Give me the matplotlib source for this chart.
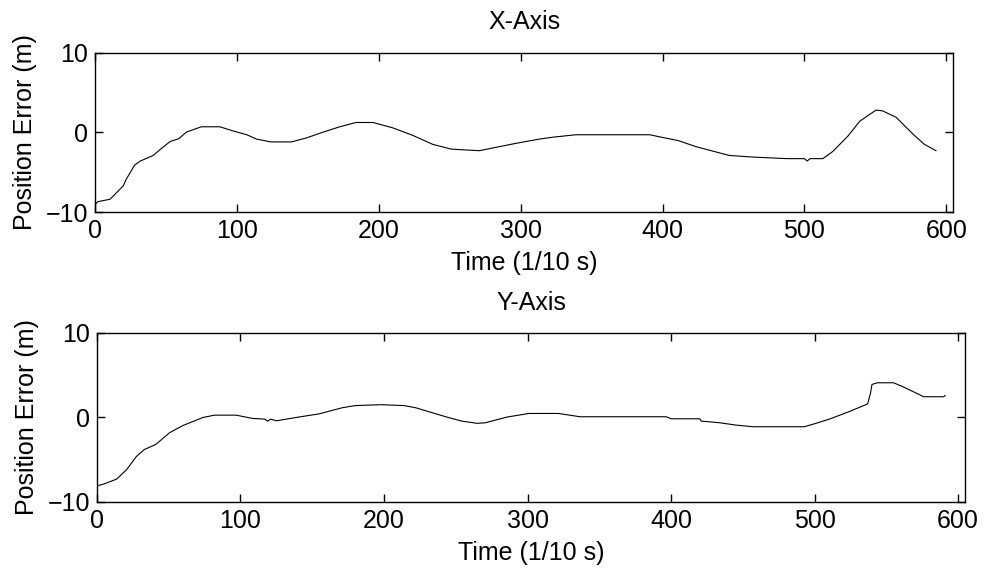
import numpy as np
import matplotlib
matplotlib.use("Agg")
import matplotlib.pyplot as plt

plt.rcParams['font.family'] = ['Liberation Sans', 'DejaVu Sans']

# ============================================================================
# values (time in 1/10 s, error in m)
x_time = [0, 2, 10.6, 20, 22, 28, 32, 41, 47, 53, 59, 64.5, 75, 88, 97, 107,
          114, 124, 138.5, 149, 161, 172.5, 184, 196, 203, 210, 224, 238, 251,
          260.5, 271, 282, 297, 313, 323, 339, 391, 402.6, 411, 423.7, 447,
          463.6, 488, 500, 502, 504, 513, 520, 530.5, 539, 550.5, 555, 564.6,
          577, 584.5, 592.7]
x_err = [-9.1, -8.7, -8.4, -6.7, -5.9, -4.1, -3.6, -2.9, -2.0, -1.15, -0.8,
         0.04, 0.7, 0.7, 0.2, -0.3, -0.85, -1.2, -1.2, -0.7, 0.04, 0.7, 1.24,
         1.24, 0.9, 0.56, -0.38, -1.5, -2.1, -2.2, -2.3, -1.9, -1.37, -0.85,
         -0.6, -0.3, -0.3, -0.73, -1.03, -1.8, -2.9, -3.1, -3.3, -3.3, -3.6,
         -3.3, -3.3, -2.4, -0.5, 1.4, 2.8, 2.7, 1.9, -0.3, -1.5, -2.3]

y_time = [0, 4.4, 13.7, 20.6, 27.6, 33, 41, 50.7, 60, 74, 82, 97, 108.5, 117,
          119, 121, 125, 139, 155, 171, 180, 196.5, 199, 214, 222, 243, 254,
          265, 270.6, 285.6, 301, 321.5, 336.6, 396.7, 400, 420, 421, 433.8,
          445, 457, 492.8, 501, 511, 525, 537, 539, 540, 543.8, 555, 562, 576,
          590, 591]
y_err = [-8.1, -7.9, -7.3, -6.2, -4.6, -3.8, -3.2, -1.8, -0.95, 0.0, 0.27,
         0.27, -0.12, -0.2, -0.45, -0.2, -0.4, 0.0, 0.43, 1.15, 1.4, 1.5, 1.5,
         1.4, 1.15, 0.08, -0.43, -0.7, -0.63, 0.04, 0.47, 0.47, 0.08, 0.08,
         -0.16, -0.16, -0.43, -0.63, -0.9, -1.1, -1.1, -0.7, -0.16, 0.75, 1.6,
         2.9, 3.9, 4.1, 4.1, 3.6, 2.45, 2.45, 2.6]

x_ticks = [0, 100, 200, 300, 400, 500, 600]
y_ticks = [-10, 0, 10]

FS = 18

# ============================================================================
fig = plt.figure(figsize=(9.89, 5.73), dpi=100)
ax1 = fig.add_axes([0.096, 0.630, 0.868, 0.278])
ax2 = fig.add_axes([0.098, 0.124, 0.878, 0.295])

for ax, t, e, title, pad in [(ax1, x_time, x_err, 'X-Axis', 17),
                             (ax2, y_time, y_err, 'Y-Axis', 16.5)]:
    ax.plot(t, e, color='black', linewidth=0.8)
    ax.set_xlim(0, 605)
    ax.set_ylim(-10, 10)
    ax.set_xticks(x_ticks)
    ax.set_yticks(y_ticks)
    ax.tick_params(direction='in', length=5.5, width=1, labelsize=FS,
                   top=True, right=True, pad=5)
    ax.set_xlabel('Time (1/10 s)', fontsize=FS, labelpad=6)
    ax.set_ylabel('Position Error (m)', fontsize=FS, labelpad=6)
    ax.set_title(title, fontsize=FS, pad=pad)
    for sp in ax.spines.values():
        sp.set_linewidth(1.0)

fig.savefig('out.png', dpi=100)
